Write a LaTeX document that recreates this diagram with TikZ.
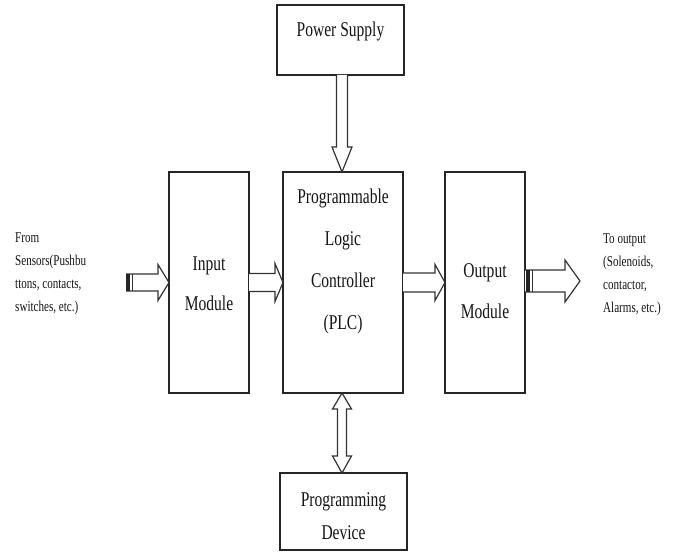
\documentclass[tikz,border=0pt]{standalone}
\usepackage{fontspec}
\setmainfont[FakeStretch=0.74]{Liberation Serif}
\usetikzlibrary{calc}
\newcommand\myharrow[5]{\draw[blk] let \p1=(#1), \p2=(#2) in (\x1,\y2+#3pt) -- (\x2-#5pt,\y2+#3pt) -- (\x2-#5pt,\y2+#4pt) -- (\x2,\y2) -- (\x2-#5pt,\y2-#4pt) -- (\x2-#5pt,\y2-#3pt) -- (\x1,\y2-#3pt);}
\begin{document}
\begin{tikzpicture}[x=1pt,y=-1pt,
  box/.style={draw=black!85,line width=1.5pt,inner sep=0pt,outer sep=0pt},
  blk/.style={draw=black!80,line width=1.2pt,fill=white,line join=miter},
  lbl/.style={text=black!92,align=center,inner sep=0pt},
  side/.style={text=black!92,font=\fontsize{15}{23}\selectfont,align=left,inner sep=0pt,anchor=west}]
\useasboundingbox (0,0) rectangle (675,553);
% boxes
\node[box,minimum width=127pt,minimum height=70pt] (ps) at (340.5,40) {};
\node[box,minimum width=120pt,minimum height=221pt] (plc) at (343,282.5) {};
\node[box,minimum width=80pt,minimum height=221pt] (inp) at (209,282.5) {};
\node[box,minimum width=80pt,minimum height=221pt] (out) at (485,282.5) {};
\node[box,minimum width=127pt,minimum height=77pt] (prog) at (343.5,511.5) {};
% box texts
\node[lbl,font=\fontsize{21}{24}\selectfont] (psT) at (340.5,31) {Power Supply};
\node[lbl,font=\fontsize{21}{42}\selectfont] (plcT) at (343,261) {Programmable\\Logic\\Controller\\(PLC)};
\node[lbl,font=\fontsize{21}{40}\selectfont] (inpT) at (209,284) {Input\\Module};
\node[lbl,font=\fontsize{21}{41}\selectfont] (outT) at (485,291.5) {Output\\Module};
\node[lbl,font=\fontsize{21}{33}\selectfont] (progT) at (343.5,516.5) {Programming\\Device};
% side texts
\node[side] (srcT) at (15,274) {From\\Sensors(Pushbu\\ttons, contacts,\\switches, etc.)};
\node[side] (dstT) at (603,274.5) {To output\\(Solenoids,\\contactor,\\Alarms, etc.)};
% connectors
\coordinate (src) at (126,283);
\coordinate (dst) at (580,281);
\myharrow{src}{inp.west}{8.5}{18}{11}
\fill[black!85] (126,274.5) rectangle (130,291.5);
\draw[black!80,line width=1.2pt] (132.5,274.5) -- (132.5,291.5);
\myharrow{inp.east}{plc.west}{9}{19}{8}
\myharrow{plc.east}{out.west}{9.5}{18}{10}
\myharrow{out.east}{dst}{11}{21}{15}
\fill[black!85] (525.5,270) rectangle (530,292);
\draw[black!80,line width=1.2pt] (532.5,270) -- (532.5,292);
% power supply arrow
\draw[blk] let \p1=(ps.south), \p2=(plc.north) in
  (\x2-1pt+5.5pt,\y1) -- (\x2-1pt+5.5pt,\y2+25pt) -- (\x2-1pt+10pt,\y2+25pt) -- (\x2-1pt,\y2)
  -- (\x2-1pt-10pt,\y2+25pt) -- (\x2-1pt-5.5pt,\y2+25pt) -- (\x2-1pt-5.5pt,\y1);
% bidirectional arrow
\draw[blk] let \p1=(plc.south), \p2=(prog.north), \n1={\x1-1pt} in
  (\n1,\y1) -- (\n1+9.5pt,\y1-16pt) -- (\n1+4.5pt,\y1-16pt) -- (\n1+4.5pt,\y2+17pt)
  -- (\n1+9.5pt,\y2+17pt) -- (\n1,\y2) -- (\n1-9.5pt,\y2+17pt) -- (\n1-4.5pt,\y2+17pt)
  -- (\n1-4.5pt,\y1-16pt) -- (\n1-9.5pt,\y1-16pt) -- cycle;
\end{tikzpicture}
\end{document}
